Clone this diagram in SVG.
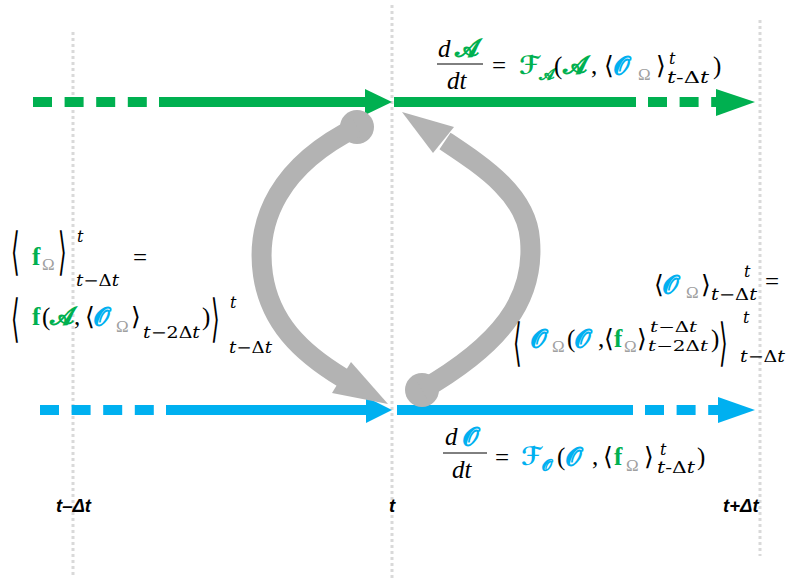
<svg xmlns="http://www.w3.org/2000/svg" width="788" height="581" viewBox="0 0 788 581">
<style>
.grid{stroke:#d9d9d9;stroke-width:3;stroke-dasharray:3 3;fill:none}
.ln{stroke-width:10;fill:none}
.dash{stroke-dasharray:19 12.6}
.gc{stroke:#00b050}
.bc{stroke:#00b0f0}
.gf{fill:#00b050}
.bf{fill:#00b0f0}
.arc{stroke:#b3b3b3;stroke-width:20;fill:none}
.af{fill:#b3b3b3}
.m{font-family:"Liberation Serif","DejaVu Serif",serif;font-size:25px;fill:#000}
.i{font-style:italic}
.s{font-size:17px}
.ss{font-size:16px}
.t{font-family:"DejaVu Serif","Liberation Serif",serif;font-size:16px;fill:#000}
.t2{font-size:14.5px}
.g{fill:#00b050}
.b{fill:#00b0f0}
.gr{fill:#a0a0a0}
.sc{font-family:"DejaVu Sans","DejaVu Serif",serif}
.br{font-family:"DejaVu Sans",sans-serif;font-weight:200}
.bf2{font-weight:bold}
.big{font-family:"DejaVu Sans",sans-serif;font-size:22px;font-weight:200}
.ax{font-family:"Liberation Sans",Arial,sans-serif;font-weight:bold;font-style:italic;font-size:18.5px;fill:#000}
</style>
<g id="grid">
<line class="grid" x1="73" y1="32" x2="73" y2="578"/>
<line class="grid" x1="392" y1="5" x2="392" y2="578"/>
<line class="grid" x1="760" y1="20" x2="760" y2="556"/>
</g>
<g id="axis-labels">
<text class="ax" x="56" y="512">t–Δt</text>
<text class="ax" x="389" y="512">t</text>
<text class="ax" x="723" y="512">t+Δt</text>
</g>
<g id="connectors">
<g id="green-line">
<line class="ln gc dash" x1="33" y1="102" x2="160" y2="102"/>
<line class="ln gc" x1="159" y1="102" x2="367" y2="102"/>
<polygon class="gf" points="365,89 392,102 365,115"/>
<line class="ln gc" x1="394" y1="102" x2="636" y2="102"/>
<line class="ln gc dash" x1="648" y1="102" x2="718" y2="102"/>
<polygon class="gf" points="716,89 755,102 716,116"/>
</g>
<g id="blue-line">
<line class="ln bc dash" x1="40" y1="410" x2="155" y2="410"/>
<line class="ln bc" x1="166" y1="410" x2="368" y2="410"/>
<polygon class="bf" points="366,397 392,410 366,423"/>
<line class="ln bc" x1="397" y1="410" x2="633" y2="410"/>
<line class="ln bc dash" x1="645" y1="410" x2="720" y2="410"/>
<polygon class="bf" points="718,397 755,410 718,423"/>
</g>
<g id="feedback-down">
<circle class="af" cx="357" cy="127" r="17"/>
<path class="arc" d="M357,127 C280,165 255,220 263,275 C270,322 300,352 343,378"/>
<polygon class="af" points="388,404 332,393 351,362"/>
</g>
<g id="feedback-up">
<circle class="af" cx="422" cy="390" r="17"/>
<path class="arc" d="M422,390 C500,345 535,300 530,240 C527,195 484,167 445,141"/>
<polygon class="af" points="402,112 433,153 454,127"/>
</g>
</g>
<g id="eq-top">
<text class="m i" x="438" y="57">d</text>
<text class="m sc g bf2" x="455" y="57">𝓐</text>
<line x1="437" y1="64" x2="483" y2="64" stroke="#000" stroke-width="1"/>
<text class="m i" x="447" y="89">dt</text>
<text class="m" x="492" y="74">=</text>
<text class="m sc g bf2" x="519" y="74">ℱ</text>
<text class="m ss sc g bf2" x="539" y="80">𝓐</text>
<text class="m" x="554" y="74">(</text>
<text class="m sc g bf2" x="563" y="74">𝓐</text>
<text class="m" x="591" y="74">,</text>
<text class="m br" x="604" y="74">⟨</text>
<text class="m sc b bf2" x="614" y="74">𝓞</text>
<text class="m s gr" x="638" y="80">Ω</text>
<text class="m br" x="656" y="74">⟩</text>
<text class="t i" x="669" y="64">t</text>
<text class="t" x="667" y="83" textLength="42" lengthAdjust="spacingAndGlyphs"><tspan class="i">t</tspan>-Δ<tspan class="i">t</tspan></text>
<text class="m" x="713" y="74">)</text>
</g>
<g id="eq-bottom">
<text class="m i" x="445" y="445">d</text>
<text class="m sc b bf2" x="463" y="445">𝓞</text>
<line x1="443" y1="453" x2="487" y2="453" stroke="#000" stroke-width="1"/>
<text class="m i" x="452" y="478">dt</text>
<text class="m" x="495" y="466">=</text>
<text class="m sc b bf2" x="521" y="465">ℱ</text>
<text class="m ss sc b bf2" x="542" y="471">𝓞</text>
<text class="m" x="557" y="465">(</text>
<text class="m sc b bf2" x="566" y="465">𝓞</text>
<text class="m" x="592" y="465">,</text>
<text class="m br" x="603" y="465">⟨</text>
<text class="m g bf2" x="614" y="465">f</text>
<text class="m s gr" x="626" y="471">Ω</text>
<text class="m br" x="644" y="465">⟩</text>
<text class="t i" x="660" y="455">t</text>
<text class="t" x="657" y="473" textLength="38" lengthAdjust="spacingAndGlyphs"><tspan class="i">t</tspan>-Δ<tspan class="i">t</tspan></text>
<text class="m" x="697" y="465">)</text>
</g>
<g id="eq-left">
<text class="big" transform="translate(11,269) scale(1,2.3)">⟨</text>
<text class="m g bf2" x="32" y="265">f</text>
<text class="m s gr" x="42" y="270">Ω</text>
<text class="big" transform="translate(58,269) scale(1,2.3)">⟩</text>
<text class="t i" x="77" y="242">t</text>
<text class="t" x="76" y="286" textLength="43" lengthAdjust="spacingAndGlyphs"><tspan class="i">t</tspan>−Δ<tspan class="i">t</tspan></text>
<text class="m" x="133" y="266">=</text>
<text class="big" transform="translate(11,336) scale(1,2.3)">⟨</text>
<text class="m g bf2" x="32" y="325">f</text>
<text class="m" x="42" y="325">(</text>
<text class="m sc g bf2" x="50" y="325">𝓐</text>
<text class="m" x="74" y="325">,</text>
<text class="m br" x="85" y="325">⟨</text>
<text class="m sc b bf2" x="94" y="325">𝓞</text>
<text class="m s gr" x="116" y="332">Ω</text>
<text class="m br" x="131" y="325">⟩</text>
<text class="t" x="143" y="338" textLength="57" lengthAdjust="spacingAndGlyphs"><tspan class="i">t</tspan>−2Δ<tspan class="i">t</tspan></text>
<text class="m" x="202" y="325">)</text>
<text class="big" transform="translate(211,336) scale(1,2.3)">⟩</text>
<text class="t i" x="230" y="308">t</text>
<text class="t" x="229" y="353" textLength="43" lengthAdjust="spacingAndGlyphs"><tspan class="i">t</tspan>−Δ<tspan class="i">t</tspan></text>
</g>
<g id="eq-right">
<text class="m br" x="654" y="293">⟨</text>
<text class="m sc b bf2" x="663" y="293">𝓞</text>
<text class="m s gr" x="686" y="298">Ω</text>
<text class="m br" x="701" y="293">⟩</text>
<text class="t i" x="744" y="277">t</text>
<text class="t" x="711" y="300" textLength="46" lengthAdjust="spacingAndGlyphs"><tspan class="i">t</tspan>−Δ<tspan class="i">t</tspan></text>
<text class="m" x="765" y="290">=</text>
<text class="big" transform="translate(513,360) scale(1,2.3)">⟨</text>
<text class="m sc b bf2" x="531" y="347">𝓞</text>
<text class="m s gr" x="552" y="352">Ω</text>
<text class="m" x="567" y="347">(</text>
<text class="m sc b bf2" x="575" y="347">𝓞</text>
<text class="m" x="598" y="347">,</text>
<text class="m br" x="604" y="347">⟨</text>
<text class="m g bf2" x="614" y="347">f</text>
<text class="m s gr" x="624" y="352">Ω</text>
<text class="m br" x="637" y="347">⟩</text>
<text class="t t2" x="650" y="332" textLength="47" lengthAdjust="spacingAndGlyphs"><tspan class="i">t</tspan>−Δ<tspan class="i">t</tspan></text>
<text class="t t2" x="648" y="351" textLength="60" lengthAdjust="spacingAndGlyphs"><tspan class="i">t</tspan>−2Δ<tspan class="i">t</tspan></text>
<text class="m" x="711" y="347">)</text>
<text class="big" transform="translate(719,360) scale(1,2.3)">⟩</text>
<text class="t i" x="743" y="323">t</text>
<text class="t" x="740" y="362" textLength="45" lengthAdjust="spacingAndGlyphs"><tspan class="i">t</tspan>−Δ<tspan class="i">t</tspan></text>
</g>
</svg>
